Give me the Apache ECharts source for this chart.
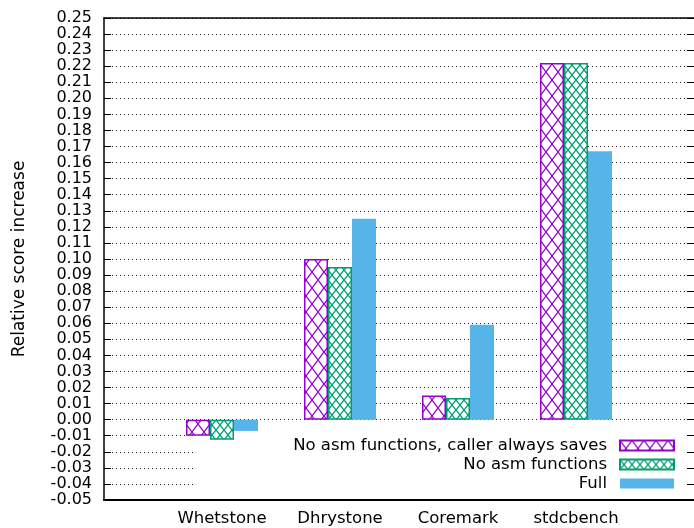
<!DOCTYPE html>
<html>
<head>
<meta charset="utf-8">
<script src="https://cdn.jsdelivr.net/npm/echarts@6/dist/echarts.min.js"></script>
<style>
html,body{margin:0;padding:0;background:#fff;}
#chart{width:694px;height:528px;}
</style>
</head>
<body>
<div id="chart"></div>
<script>
// ---- data ----
var categories = ['Whetstone', 'Dhrystone', 'Coremark', 'stdcbench'];
var seriesNames = ['No asm functions, caller always saves', 'No asm functions', 'Full'];
var callerSaves = [-0.010, 0.100, 0.015, 0.222];
var noAsm = [-0.0125, 0.095, 0.0135, 0.222];
var full = [-0.007, 0.125, 0.059, 0.167];
var yTicks = { min: -0.05, max: 0.25, step: 0.01 };

// ---- styling helpers ----
var FONT = 'DejaVu Sans';
function makePattern(color, W, H, lw) {
  var c = document.createElement('canvas');
  c.width = W; c.height = H;
  var ctx = c.getContext('2d');
  ctx.fillStyle = '#ffffff';
  ctx.fillRect(0, 0, W, H);
  ctx.strokeStyle = color;
  ctx.lineWidth = lw;
  ctx.beginPath();
  ctx.moveTo(-W * 0.1, -H * 0.1); ctx.lineTo(W * 1.1, H * 1.1);
  ctx.moveTo(-W * 0.1, H * 1.1); ctx.lineTo(W * 1.1, -H * 0.1);
  ctx.stroke();
  return { image: c, repeat: 'repeat' };
}
var PURPLE = '#9400d3', GREEN = '#009e73', BLUE = '#56b4e9';

// pad categories with empty slots at both ends (x range -1..4)
var cats = [''].concat(categories).concat(['']);
function pad(arr) { return [null].concat(arr).concat([null]); }

var chart = echarts.init(document.getElementById('chart'), null, { renderer: 'canvas' });

var common = { type: 'bar', barWidth: 24, barGap: '0%' };
var option = {
  animation: false,
  backgroundColor: '#ffffff',
  textStyle: { fontFamily: FONT },
  grid: { left: 104, top: 18, right: -2, bottom: 28, containLabel: false },
  legend: {
    orient: 'vertical',
    align: 'right',
    right: 19,
    top: 436,
    padding: 0,
    itemGap: 0,
    itemWidth: 54,
    itemHeight: 10,
    icon: 'rect',
    textStyle: { fontFamily: FONT, fontSize: 16.5, color: '#000', lineHeight: 19, padding: [0, 8, 0, 0] },
    data: seriesNames
  },
  graphic: [{
    type: 'rect', z: 1, silent: true,
    shape: { x: 193, y: 428, width: 493, height: 71 },
    style: { fill: '#ffffff' }
  }],
  xAxis: [{
    type: 'category',
    data: cats,
    boundaryGap: false,
    axisLine: { show: true, onZero: false, lineStyle: { color: '#000', width: 2 } },
    axisTick: { show: true, inside: true, length: 8, lineStyle: { color: '#000', width: 1 },
      interval: function (i, v) { return v !== ''; } },
    axisLabel: { color: '#000', fontSize: 16.5, fontFamily: FONT, margin: 10,
      interval: function (i, v) { return v !== ''; } },
    splitLine: { show: false }
  }, {
    type: 'category',
    data: cats,
    boundaryGap: false,
    position: 'top',
    axisLine: { show: true, onZero: false, lineStyle: { color: '#000', width: 1.5 } },
    axisTick: { show: false },
    axisLabel: { show: false },
    splitLine: { show: false }
  }],
  yAxis: [{
    type: 'value',
    min: yTicks.min, max: yTicks.max, interval: yTicks.step,
    name: 'Relative score increase',
    nameLocation: 'middle',
    nameRotate: 90,
    nameGap: 76,
    nameTextStyle: { color: '#000', fontSize: 17, fontFamily: FONT },
    axisLine: { show: true, onZero: false, lineStyle: { color: '#000', width: 1.5 } },
    axisTick: { show: true, inside: true, length: 7, lineStyle: { color: '#000', width: 1 } },
    axisLabel: { color: '#000', fontSize: 16, fontFamily: FONT, margin: 12,
      formatter: function (v) { return v.toFixed(2); } },
    splitLine: { show: true, lineStyle: { color: '#222', width: 1, type: [1, 3] } }
  }, {
    type: 'value',
    position: 'right',
    min: yTicks.min, max: yTicks.max, interval: yTicks.step,
    axisLine: { show: false },
    axisTick: { show: true, inside: true, length: 7, lineStyle: { color: '#000', width: 1 } },
    axisLabel: { show: false },
    splitLine: { show: false }
  }],
  series: [
    Object.assign({}, common, {
      name: seriesNames[0], data: pad(callerSaves),
      itemStyle: { color: makePattern(PURPLE, 12, 16, 1.3), borderColor: PURPLE, borderWidth: 1.5 }
    }),
    Object.assign({}, common, {
      name: seriesNames[1], data: pad(noAsm),
      itemStyle: { color: makePattern(GREEN, 8, 10, 1.3), borderColor: GREEN, borderWidth: 1.5 }
    }),
    Object.assign({}, common, {
      name: seriesNames[2], data: pad(full),
      itemStyle: { color: BLUE, borderColor: BLUE, borderWidth: 0 }
    })
  ]
};
chart.setOption(option);
</script>
</body>
</html>
